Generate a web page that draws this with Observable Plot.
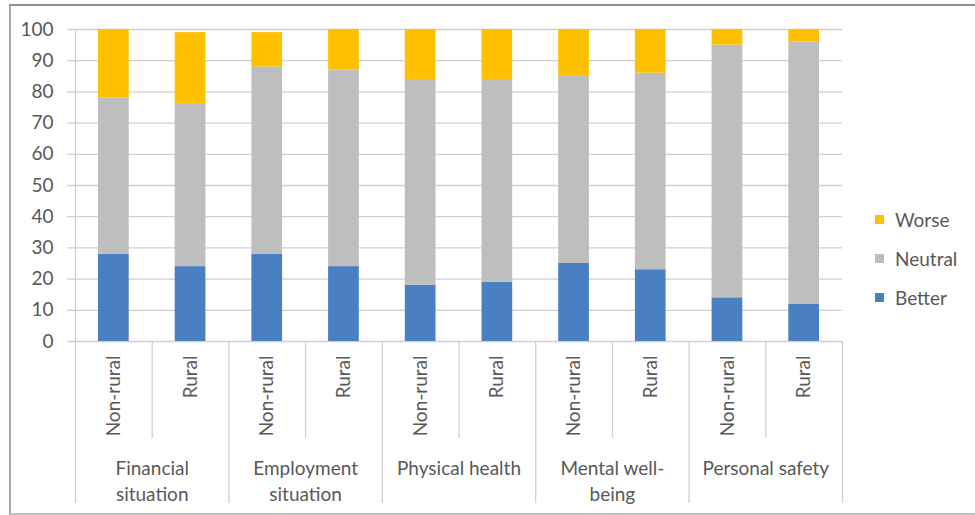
<!DOCTYPE html>
<html>
<head>
<meta charset="utf-8">
<script src="https://cdn.jsdelivr.net/npm/d3@7"></script>
<script src="https://cdn.jsdelivr.net/npm/@observablehq/plot@0.6"></script>
<style>
  html, body { margin: 0; padding: 0; background: #ffffff; }
  #wrap { position: relative; width: 975px; height: 515px; overflow: hidden; font-family: Lato, "Open Sans", sans-serif; }
  #frame { position: absolute; left: 9px; top: 4px; width: 980px; height: 507px;
           border-top: 2px solid #8f8f8f; border-left: 2px solid #a6a6a6; border-bottom: 2px solid #c4c4c4; }
  #chart { position: absolute; left: 0; top: 0; }
  #legend { position: absolute; left: 875px; top: 200px; color: #595959; font-size: 19px; }
  .item { display: flex; align-items: center; height: 39px; }
  .sw { width: 9px; height: 9px; margin-right: 11px; }
</style>
</head>
<body>
<div id="wrap">
  <div id="frame"></div>
  <div id="chart"></div>
  <div id="legend"></div>
</div>
<script>
// ---- data ----
const groups = ["Financial situation", "Employment situation", "Physical health", "Mental well-being", "Personal safety"];
const groupLabels = ["Financial\nsituation", "Employment\nsituation", "Physical health", "Mental well-\nbeing", "Personal safety"];
const areas = ["Non-rural", "Rural"];
const responses = ["Better", "Neutral", "Worse"];
const better  = [28, 24, 28, 24, 18, 19, 25, 23, 14, 12];
const neutral = [50, 52, 60, 63, 66, 65, 60, 63, 81, 84];
const worse   = [22, 23, 11, 13, 16, 16, 15, 14,  5,  4];
const yTicks = [0, 10, 20, 30, 40, 50, 60, 70, 80, 90, 100];
const colors = ["#4a7fc1", "#bebebe", "#ffc000"];

// ---- build tables ----
const bars = [];
groups.forEach((g, gi) => areas.forEach((a, ai) => bars.push({key: g + " | " + a, group: g, area: a, i: gi * 2 + ai})));
const keys = bars.map(d => d.key);
const series = {Better: better, Neutral: neutral, Worse: worse};
const rows = [];
bars.forEach(b => responses.forEach(r => rows.push({key: b.key, response: r, value: series[r][b.i]})));
const groupRows = groups.map((g, gi) => ({key: keys[gi * 2], label: groupLabels[gi]}));

const W = 975, H = 515, mL = 75, mR = 133, mT = 29, mB = 174;
const step = (W - mL - mR) / keys.length;
const frameH = H - mT - mB;
const lineColor = "#d0d0d0";

const chart = Plot.plot({
  width: W, height: H,
  marginLeft: mL, marginRight: mR, marginTop: mT, marginBottom: mB,
  style: {fontFamily: "Lato, 'Open Sans', sans-serif", fontSize: "19px", color: "#595959", background: "transparent", overflow: "visible"},
  x: {domain: keys, padding: 0, round: false, axis: null},
  y: {domain: [0, 100], axis: null},
  color: {domain: responses, range: colors},
  marks: [
    Plot.ruleY(yTicks, {stroke: lineColor, strokeWidth: 1.3, insetLeft: -8}),
    Plot.axisY({ticks: yTicks, tickSize: 0, tickPadding: 22, label: null, fontSize: 19}),
    Plot.barY(rows, {x: "key", y: "value", fill: "response", order: responses, insetLeft: 23, insetRight: 23}),
    // vertical axis line and category separators
    Plot.ruleX([keys[0]], {dx: -step / 2, stroke: lineColor, strokeWidth: 1.3, insetBottom: -162}),
    Plot.ruleX([keys[2], keys[4], keys[6], keys[8]], {dx: -step / 2, stroke: lineColor, strokeWidth: 1.3, insetTop: frameH, insetBottom: -162}),
    Plot.ruleX([keys[keys.length - 1]], {dx: step / 2, stroke: lineColor, strokeWidth: 1.3, insetTop: frameH, insetBottom: -162}),
    Plot.ruleX([keys[1], keys[3], keys[5], keys[7], keys[9]], {dx: -step / 2, stroke: lineColor, strokeWidth: 1.3, insetTop: frameH, insetBottom: -97}),
    // sub-category labels
    Plot.text(bars, {x: "key", text: "area", frameAnchor: "bottom", dy: 14, rotate: -90, textAnchor: "end", lineAnchor: "middle", fill: "#595959"}),
    // group labels
    Plot.text(groupRows, {x: "key", text: "label", dx: step / 2, frameAnchor: "bottom", dy: 116, lineAnchor: "top", lineHeight: 1.33, fill: "#595959"})
  ]
});
document.getElementById("chart").appendChild(chart);

// legend
const legend = document.getElementById("legend");
[...responses].reverse().forEach(r => {
  const item = document.createElement("div");
  item.className = "item";
  const sw = document.createElement("span");
  sw.className = "sw";
  sw.style.background = colors[responses.indexOf(r)];
  const t = document.createElement("span");
  t.textContent = r;
  item.appendChild(sw); item.appendChild(t);
  legend.appendChild(item);
});
</script>
</body>
</html>
